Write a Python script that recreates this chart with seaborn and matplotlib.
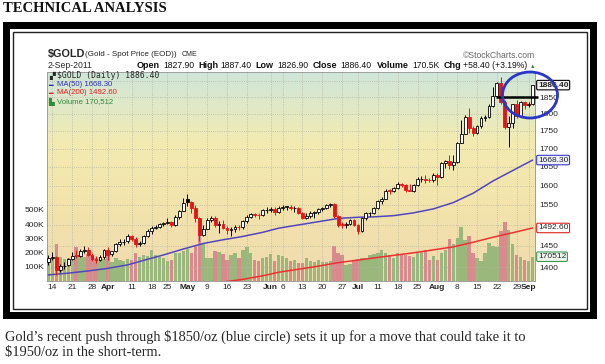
import matplotlib
matplotlib.use("Agg")
import matplotlib.pyplot as plt
import matplotlib.patches as mpatches
from matplotlib.colors import LinearSegmentedColormap
from matplotlib.ticker import NullLocator, FixedLocator
from matplotlib.transforms import blended_transform_factory
import numpy as np
import pandas as pd
import seaborn as sns

# ---- data ----
holidays = ["2011-04-22", "2011-05-30", "2011-07-04"]
days = [d for d in pd.bdate_range("2011-03-11", "2011-09-02") if d.strftime("%Y-%m-%d") not in holidays]

opens = [
    1412, 1421, 1423, 1393, 1402, 1404, 1418, 1427, 1425, 1437,
    1440, 1428, 1418, 1417, 1424, 1439, 1430, 1437, 1453, 1458,
    1460, 1474, 1466, 1453, 1456, 1473, 1486, 1493, 1495, 1503,
    1505, 1507, 1501, 1520, 1535, 1566, 1557, 1542, 1516, 1476,
    1491, 1513, 1517, 1500, 1502, 1493, 1488, 1490, 1496, 1494,
    1510, 1519, 1526, 1525, 1524, 1536, 1538, 1540, 1533, 1542,
    1545, 1545, 1541, 1542, 1530, 1517, 1522, 1530, 1531, 1539,
    1543, 1550, 1553, 1521, 1501, 1500, 1502, 1511, 1501, 1484,
    1516, 1529, 1530, 1543, 1560, 1566, 1587, 1586, 1594, 1603,
    1601, 1588, 1587, 1601, 1616, 1617, 1615, 1614, 1628, 1622,
    1660, 1667, 1654, 1663, 1716, 1742, 1790, 1758, 1745, 1765,
    1786, 1790, 1823, 1852, 1893, 1835, 1760, 1772, 1828, 1792,
    1835, 1826, 1827.9]
highs = [
    1428, 1434, 1425, 1406, 1412, 1422, 1435, 1440, 1442, 1448,
    1447, 1432, 1425, 1428, 1442, 1447, 1438, 1456, 1466, 1466,
    1477, 1476, 1470, 1461, 1476, 1489, 1497, 1499, 1505, 1508,
    1518, 1510, 1525, 1537, 1567, 1577, 1561, 1550, 1520, 1500,
    1517, 1521, 1522, 1510, 1512, 1497, 1494, 1500, 1501, 1512,
    1524, 1529, 1530, 1530, 1540, 1544, 1544, 1544, 1547, 1550,
    1548, 1550, 1547, 1546, 1533, 1529, 1534, 1535, 1542, 1546,
    1553, 1556, 1555, 1524, 1508, 1508, 1515, 1515, 1502, 1518,
    1531, 1533, 1545, 1563, 1570, 1590, 1592, 1597, 1610, 1608,
    1604, 1604, 1605, 1622, 1624, 1627, 1621, 1633, 1632, 1664,
    1668, 1683, 1681, 1719, 1782, 1795, 1817, 1764, 1767, 1792,
    1795, 1829, 1880, 1896, 1913, 1840, 1793, 1830, 1840, 1838,
    1838, 1835, 1887.4]
lows = [
    1405, 1417, 1381, 1389, 1396, 1402, 1416, 1421, 1424, 1433,
    1425, 1415, 1410, 1413, 1419, 1417, 1426, 1434, 1449, 1452,
    1457, 1461, 1447, 1450, 1453, 1470, 1479, 1490, 1493, 1498,
    1502, 1496, 1497, 1514, 1534, 1548, 1530, 1508, 1462, 1474,
    1489, 1507, 1495, 1480, 1489, 1478, 1474, 1483, 1488, 1491,
    1505, 1516, 1519, 1514, 1522, 1530, 1533, 1525, 1530, 1536,
    1538, 1537, 1531, 1526, 1514, 1515, 1518, 1518, 1528, 1535,
    1540, 1545, 1516, 1496, 1493, 1493, 1499, 1497, 1478, 1482,
    1512, 1522, 1527, 1540, 1553, 1564, 1578, 1583, 1590, 1595,
    1583, 1585, 1584, 1600, 1610, 1608, 1609, 1610, 1602, 1620,
    1647, 1645, 1641, 1660, 1715, 1740, 1743, 1735, 1740, 1757,
    1778, 1788, 1820, 1850, 1830, 1756, 1705, 1758, 1786, 1790,
    1813, 1819, 1826.9]
closes = [
    1420, 1424, 1394, 1402, 1403, 1418, 1426, 1425, 1437, 1440,
    1428, 1418, 1416, 1424, 1439, 1429, 1437, 1453, 1458, 1459,
    1474, 1466, 1453, 1457, 1473, 1486, 1493, 1495, 1502, 1504,
    1507, 1501, 1520, 1535, 1556, 1557, 1542, 1516, 1476, 1491,
    1513, 1517, 1500, 1502, 1493, 1488, 1490, 1496, 1494, 1510,
    1519, 1526, 1525, 1524, 1536, 1538, 1540, 1533, 1542, 1545,
    1545, 1541, 1542, 1530, 1517, 1522, 1530, 1531, 1539, 1543,
    1550, 1553, 1521, 1501, 1500, 1502, 1511, 1501, 1484, 1516,
    1529, 1530, 1543, 1560, 1566, 1587, 1586, 1594, 1603, 1601,
    1588, 1587, 1601, 1616, 1617, 1615, 1614, 1628, 1622, 1660,
    1667, 1654, 1663, 1716, 1742, 1790, 1758, 1745, 1765, 1786,
    1790, 1823, 1852, 1893, 1835, 1760, 1772, 1828, 1792, 1835,
    1826, 1828, 1886.4]
# volume in thousands
volumes = [
    160, 165, 257, 170, 155, 160, 150, 236, 185, 170,
    190, 175, 165, 150, 155, 220, 130, 160, 150, 140,
    155, 150, 200, 170, 180, 175, 215, 185, 170, 160,
    140, 150, 195, 200, 210, 225, 200, 250, 364, 270,
    165, 160, 210, 205, 190, 150, 185, 200, 160, 215,
    240, 200, 150, 140, 165, 170, 190, 140, 185, 175,
    165, 140, 150, 125, 128, 162, 140, 130, 150, 135,
    130, 140, 245, 200, 186, 114, 120, 150, 155, 165,
    160, 185, 190, 200, 221, 200, 180, 165, 200, 180,
    185, 175, 170, 200, 210, 215, 150, 175, 150, 200,
    215, 297, 257, 300, 376, 290, 317, 200, 160, 140,
    200, 264, 245, 240, 352, 412, 357, 257, 186, 169,
    150, 143, 170.512]

ma50_dates = ["2011-03-11", "2011-03-18", "2011-03-25", "2011-04-01", "2011-04-08", "2011-04-15",
              "2011-04-21", "2011-04-29", "2011-05-06", "2011-05-13", "2011-05-20", "2011-05-27",
              "2011-06-03", "2011-06-10", "2011-06-17", "2011-06-24", "2011-07-01", "2011-07-08",
              "2011-07-15", "2011-07-22", "2011-07-29", "2011-08-05", "2011-08-12", "2011-08-19",
              "2011-08-26", "2011-09-02"]
ma50_values = [1382, 1386, 1391, 1397, 1405, 1418, 1428, 1442, 1455, 1464, 1472, 1482, 1492,
               1500, 1508, 1516, 1519, 1520, 1523, 1530, 1540, 1556, 1580, 1612, 1640, 1668.3]
ma200_dates = ["2011-05-13", "2011-05-20", "2011-05-27", "2011-06-03", "2011-06-10", "2011-06-17",
               "2011-06-24", "2011-07-01", "2011-07-08", "2011-07-15", "2011-07-22", "2011-07-29",
               "2011-08-05", "2011-08-12", "2011-08-19", "2011-08-26", "2011-09-02"]
ma200_values = [1366, 1372, 1380, 1388, 1395, 1402, 1410, 1416, 1421, 1427, 1433, 1440,
                1447, 1458, 1470, 1481, 1492.6]

tick_dates = ["2011-03-14", "2011-03-21", "2011-03-28", "2011-04-01", "2011-04-11", "2011-04-18",
              "2011-04-25", "2011-05-02", "2011-05-09", "2011-05-16", "2011-05-23", "2011-06-01",
              "2011-06-06", "2011-06-13", "2011-06-20", "2011-06-27", "2011-07-01", "2011-07-11",
              "2011-07-18", "2011-07-25", "2011-08-01", "2011-08-08", "2011-08-15", "2011-08-22",
              "2011-08-29", "2011-09-01"]
tick_labels = ["14", "21", "28", "Apr", "11", "18", "25", "May", "9", "16", "23", "Jun", "6", "13",
               "20", "27", "Jul", "11", "18", "25", "Aug", "8", "15", "22", "29", "Sep"]
month_names = ["Apr", "May", "Jun", "Jul", "Aug", "Sep"]
price_ticks = [1400, 1450, 1500, 1550, 1600, 1650, 1700, 1750, 1800, 1850, 1900]
hidden_price_labels = [1500, 1900]  # covered by the value tags
volume_ticks = [100, 200, 300, 400, 500]

# ---- layout helpers (pixel coords of the 605x364 picture) ----
W, H = 605, 364
pos = {d.strftime("%Y-%m-%d"): i for i, d in enumerate(days)}
n = len(days)


def fx(px):
    return px / W


def fy(py):
    return 1 - py / H


sns.set_style("white")
plt.rcParams["font.family"] = ["Liberation Sans", "DejaVu Sans"]

fig = plt.figure(figsize=(W / 100, H / 100), dpi=100)
fig.patch.set_facecolor("white")

# picture frame
fig.add_artist(mpatches.Rectangle((fx(3), fy(319)), (597 - 3) / W, (319 - 22) / H,
                                  transform=fig.transFigure, fc="black", ec="none", zorder=0))
fig.add_artist(mpatches.Rectangle((fx(10), fy(312)), (590 - 10) / W, (312 - 29) / H,
                                  transform=fig.transFigure, fc="white", ec="none", zorder=0))
fig.add_artist(mpatches.Rectangle((fx(13), fy(309)), (587 - 13) / W, (309 - 32) / H,
                                  transform=fig.transFigure, fc="white", ec="#222222", lw=1.0, zorder=0))

fig.text(fx(3), fy(8), "TECHNICAL ANALYSIS", family=["Liberation Serif"], fontsize=10.5,
         fontweight="bold", va="center", ha="left", color="#111111")
fig.text(fx(5), fy(337), "Gold\u2019s recent push through $1850/oz (blue circle) sets it up for a move that could take it to",
         family=["Liberation Serif"], fontsize=10.4, va="center", ha="left")
fig.text(fx(5), fy(352.5), "$1950/oz in the short-term.", family=["Liberation Serif"], fontsize=10.4,
         va="center", ha="left")

# chart axes
ax = fig.add_axes([fx(47), fy(281), (535 - 47) / W, (281 - 72) / H])
ax.set_zorder(1)
bg = LinearSegmentedColormap.from_list("bg", ["#f0dab0", "#f2e3ac", "#f3ebb2", "#cfe6da"])
grad = np.linspace(0, 1, 256).reshape(-1, 1)
ax.imshow(grad, extent=[0, 1, 0, 1], transform=ax.transAxes, aspect="auto", cmap=bg,
          origin="lower", zorder=0)

xlim = (-0.35, n - 0.4)
vol_colors = ["#9ab87c" if (i == 0 or closes[i] >= closes[i - 1]) else "#d98a8d" for i in range(n)]
ax.bar(range(n), volumes, width=0.85, color=vol_colors, linewidth=0, zorder=2)
ax.set_xlim(*xlim)
ax.set_ylim(0, 1468)
ax.set_yticks(volume_ticks)
ax.set_yticklabels([f"{v}K" for v in volume_ticks], fontsize=6)
ax.set_xticks([pos[d] for d in tick_dates])
ax.set_xticklabels(tick_labels, fontsize=6)
for lab in ax.get_xticklabels():
    if lab.get_text() in month_names:
        lab.set_fontweight("bold")
ax.tick_params(axis="both", length=0, pad=2)
ax.grid(axis="x", color="#b5b5a0", lw=0.6, ls=":")
ax.set_axisbelow(False)

ax2 = ax.twinx()
ax2.set_yscale("log")
ax2.set_ylim(1368.3, 1927.4)
ax2.set_xlim(*xlim)
ax2.yaxis.set_major_locator(FixedLocator(price_ticks))
ax2.yaxis.set_minor_locator(NullLocator())
ax2.set_yticklabels(["" if p in hidden_price_labels else str(p) for p in price_ticks], fontsize=6)
ax2.tick_params(axis="y", length=0, pad=3)
ax2.grid(axis="y", color="#b5b5a0", lw=0.6, ls=":")

# moving averages
sns.lineplot(x=[pos[d] for d in ma50_dates], y=ma50_values, ax=ax2, color="#5245c0", lw=1.1, zorder=3)
sns.lineplot(x=[pos[d] for d in ma200_dates], y=ma200_values, ax=ax2, color="#ee3030", lw=1.1, zorder=3)

# candles
for i in range(n):
    o, h, l, c = opens[i], highs[i], lows[i], closes[i]
    prev = closes[i - 1] if i else o
    col = "#e41515" if c < prev else "black"
    ax2.vlines(i, l, h, color=col, lw=0.7, zorder=4)
    lo, hi = min(o, c), max(o, c)
    if hi - lo < 1.2:
        hi = lo + 1.2
    face = "white" if c >= o else col
    ax2.add_patch(mpatches.Rectangle((i - 0.36, lo), 0.72, hi - lo, fc=face, ec=col, lw=0.6, zorder=5))

# 1850 resistance line
ax2.hlines(1850, 112.7, n + 0.3, color="black", lw=1.8, zorder=6, clip_on=False)

for a in (ax, ax2):
    for s in a.spines.values():
        s.set_color("#a0a0a0")
        s.set_linewidth(0.7)
ax2.set_xlabel("")
ax2.set_ylabel("")

# value tags on the right
tr2 = blended_transform_factory(ax2.transAxes, ax2.transData)
tr1 = blended_transform_factory(ax.transAxes, ax.transData)
ax2.text(1.006, 1886.4, "1886.40", transform=tr2, fontsize=6, fontweight="bold", va="center", ha="left",
         bbox=dict(boxstyle="round,pad=0.15", fc="#f4f4f4", ec="black", lw=0.8), zorder=8, clip_on=False)
ax2.text(1.006, 1668.3, "1668.30", transform=tr2, fontsize=6, va="center", ha="left",
         bbox=dict(boxstyle="round,pad=0.15", fc="#eef0f8", ec="#3a3ac8", lw=0.8), zorder=8, clip_on=False)
ax2.text(1.006, 1492.6, "1492.60", transform=tr2, fontsize=6, va="center", ha="left",
         bbox=dict(boxstyle="round,pad=0.15", fc="white", ec="#e02020", lw=0.8), zorder=8, clip_on=False)
ax.text(1.006, 170.512, "170512", transform=tr1, fontsize=6, va="center", ha="left",
        bbox=dict(boxstyle="round,pad=0.15", fc="#eef6ee", ec="#3a9a50", lw=0.8), zorder=8, clip_on=False)

# blue circle
fig.add_artist(mpatches.Ellipse((fx(530), fy(95)), 55 / W, 46 / H, transform=fig.transFigure,
                                fill=False, ec="#2a36c8", lw=2, zorder=10))

# header
fig.text(fx(48), fy(54), "$GOLD", fontsize=7.8, fontweight="bold", va="center")
fig.text(fx(85), fy(54), "(Gold - Spot Price (EOD))", fontsize=5.8, va="center", color="#222222")
fig.text(fx(182), fy(54.5), "CME", fontsize=5.0, va="center", color="#222222")
fig.text(fx(535), fy(55), "\u00a9StockCharts.com", fontsize=6.2, va="center", ha="right", color="#666666")
fig.text(fx(48), fy(66), "2-Sep-2011", fontsize=6.2, va="center")
header = [(137, "Open", True), (163, "1827.90", False), (198, "High", True), (220, "1887.40", False),
          (255, "Low", True), (277, "1826.90", False), (313, "Close", True), (340, "1886.40", False),
          (377, "Volume", True), (412, "170.5K", False), (444, "Chg", True), (463, "+58.40 (+3.19%)", False)]
for x, t, b in header:
    fig.text(fx(x), fy(66), t, fontsize=6.5 if b else 6.2, fontweight="bold" if b else "normal",
             va="center", color="#111111")
fig.text(fx(530), fy(66), "\u25b2", fontsize=4, va="center", color="#2e8b3a")

# legend inside the plot
fig.text(fx(49), fy(76), "\u259e", fontsize=5.5, va="center", family=["DejaVu Sans"], zorder=9)
fig.text(fx(57), fy(76), "$GOLD (Daily) 1886.40", fontsize=5.8, va="center",
         family=["DejaVu Sans Mono"], zorder=9)
fig.text(fx(48), fy(85), "\u2501", fontsize=5.5, va="center", color="#3030b0", family=["DejaVu Sans"], zorder=9)
fig.text(fx(57), fy(85), "MA(50) 1668.30", fontsize=5.6, va="center", color="#3030b0", zorder=9)
fig.text(fx(48), fy(93), "\u2501", fontsize=5.5, va="center", color="#e02020", family=["DejaVu Sans"], zorder=9)
fig.text(fx(57), fy(93), "MA(200) 1492.60", fontsize=5.6, va="center", color="#e02020", zorder=9)
fig.text(fx(48), fy(102), "\u2599", fontsize=5.5, va="center", color="#2e8b3a", family=["DejaVu Sans"], zorder=9)
fig.text(fx(57), fy(102), "Volume 170,512", fontsize=5.6, va="center", color="#2e8b3a", zorder=9)

fig.savefig("out.png", dpi=100)
